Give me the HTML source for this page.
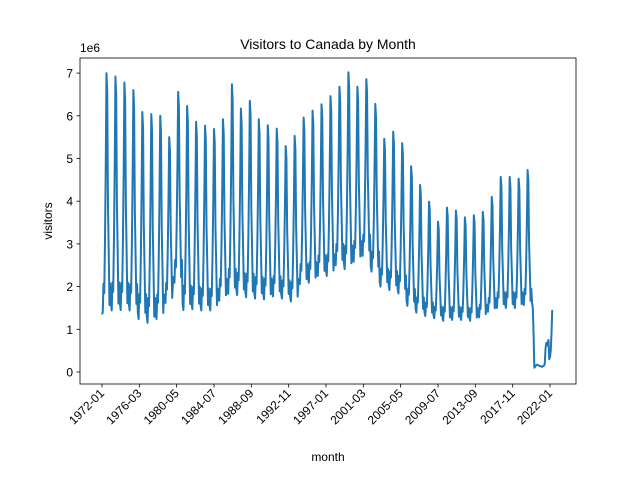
<!DOCTYPE html>
<html><head><meta charset="utf-8"><style>
body{margin:0;background:#fff}
svg text{font-family:"Liberation Sans","DejaVu Sans",sans-serif;fill:#000}
</style></head><body>
<svg id="chart" width="640" height="480" viewBox="0 0 640 480">
<rect x="0" y="0" width="640" height="480" fill="#fff"/>
<text x="328" y="49" font-size="14" text-anchor="middle">Visitors to Canada by Month</text>
<text x="80" y="52" font-size="12">1e6</text>
<g id="grid"></g>
<path id="line" fill="none" stroke="#1f77b4" stroke-width="2" stroke-linejoin="round"/>
<rect x="80" y="58" width="496" height="326" fill="none" stroke="#000" stroke-width="0.8"/>
<text x="328" y="461" font-size="12" text-anchor="middle">month</text>
<text transform="translate(52,221) rotate(-90)" font-size="12" text-anchor="middle">visitors</text>
</svg>
<script>
// Annual summer peaks and winter troughs 1972-2019 (millions)
const years = [];
for (let y = 1972; y <= 2019; y++) years.push(y);
const peaks = [7.0,6.92,6.78,6.6,6.09,6.04,6.0,5.5,6.56,6.23,5.86,5.77,5.69,5.92,6.74,6.17,6.35,5.92,5.78,5.7,5.29,5.53,5.96,6.12,6.27,6.46,6.68,7.02,6.68,6.86,6.28,5.46,5.63,5.36,4.82,4.38,3.99,3.52,3.85,3.78,3.62,3.67,3.75,4.1,4.57,4.57,4.53,4.73];
const troughs = [1.4,1.44,1.45,1.44,1.24,1.15,1.24,1.62,2.09,1.45,1.47,1.44,1.44,1.67,1.83,1.8,1.75,1.72,1.7,1.77,1.72,1.65,2.06,2.09,2.25,2.25,2.5,2.41,2.58,2.72,2.35,2.0,1.92,1.84,1.55,1.39,1.31,1.26,1.2,1.22,1.22,1.2,1.28,1.41,1.5,1.5,1.5,1.57];
// Seasonal profile (fraction between trough and peak), Jan..Dec
const seasonal = [0.03,0.0,0.12,0.08,0.3,0.6,1.0,0.92,0.45,0.25,0.03,0.12];
// Pandemic period monthly values 2020-01 .. 2022-04 (millions)
const pandemic = [1.6,1.5,0.9,0.1,0.12,0.15,0.17,0.17,0.16,0.15,0.14,0.14,
  0.13,0.12,0.13,0.14,0.15,0.2,0.55,0.68,0.62,0.7,0.75,0.3,
  0.35,0.5,0.9,1.45];
const tickLabels = ["1972-01","1976-03","1980-05","1984-07","1988-09","1992-11","1997-01","2001-03","2005-05","2009-07","2013-09","2017-11","2022-01"];
const yTicks = [0,1,2,3,4,5,6,7];

const values = [];
for (let i = 0; i < years.length; i++) {
  for (let m = 0; m < 12; m++) values.push(troughs[i] + (peaks[i] - troughs[i]) * seasonal[m]);
}
values[0] = 1.35;
pandemic.forEach(v => values.push(v));

const NS = "http://www.w3.org/2000/svg";
const g = document.getElementById("grid");
function xScale(i){ return 102 + i * 448 / 600; }
function yScale(v){ return 372 - v * 42.7; }

let d = "";
values.forEach((v, i) => { d += (i ? "L" : "M") + xScale(i).toFixed(2) + "," + yScale(v).toFixed(2); });
document.getElementById("line").setAttribute("d", d);

yTicks.forEach(t => {
  const y = yScale(t);
  const l = document.createElementNS(NS, "line");
  l.setAttribute("x1", 76.5); l.setAttribute("x2", 80); l.setAttribute("y1", y); l.setAttribute("y2", y);
  l.setAttribute("stroke", "#000"); l.setAttribute("stroke-width", "0.8");
  
  
  g.appendChild(l);
  const tx = document.createElementNS(NS, "text");
  tx.setAttribute("x", 73); tx.setAttribute("y", y + 4.5);
  tx.setAttribute("font-size", "12"); tx.setAttribute("text-anchor", "end");
  tx.textContent = t;
  
  
  g.appendChild(tx);
});

tickLabels.forEach((lab, k) => {
  const x = xScale(k * 50);
  const l = document.createElementNS(NS, "line");
  l.setAttribute("x1", x); l.setAttribute("x2", x); l.setAttribute("y1", 384); l.setAttribute("y2", 387.5);
  l.setAttribute("stroke", "#000"); l.setAttribute("stroke-width", "0.8");
  
  
  g.appendChild(l);
  const tx = document.createElementNS(NS, "text");
  tx.setAttribute("transform", "translate(" + (x + 3) + ",394) rotate(-45)");
  tx.setAttribute("font-size", "12"); tx.setAttribute("text-anchor", "end");
  tx.textContent = lab;
  
  
  g.appendChild(tx);
});
</script>
</body></html>
